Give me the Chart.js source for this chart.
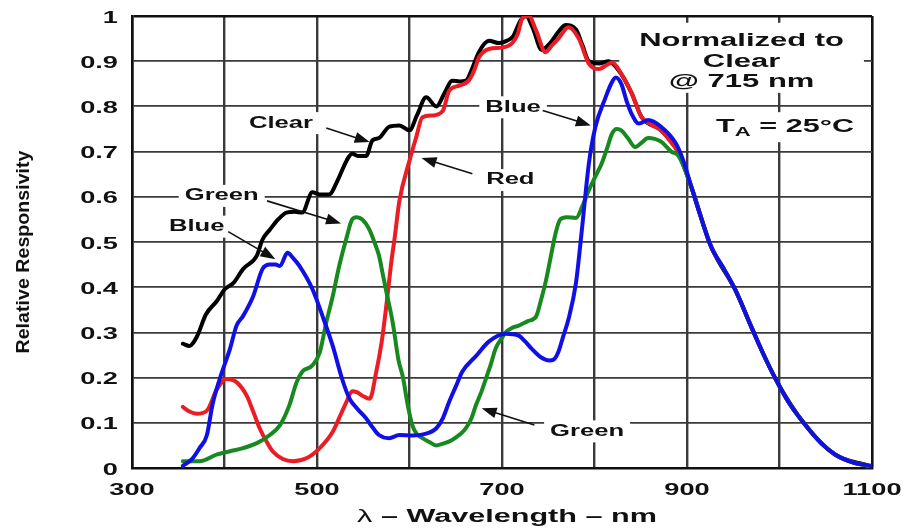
<!DOCTYPE html>
<html>
<head>
<meta charset="utf-8">
<script src="https://cdn.jsdelivr.net/npm/chart.js@4.4.0/dist/chart.umd.min.js"></script>
<style>
  html, body { margin: 0; padding: 0; background: #fff; }
</style>
</head>
<body>
<canvas id="respChart" width="907" height="530"></canvas>
<script>
// values (wavelength in nm, relative responsivity)
var clearNm  = [355, 362, 370, 380, 392, 400, 410, 420, 435, 441, 449, 458, 467, 476, 484, 495, 503, 513, 522, 532, 538, 545, 553, 560, 567, 578, 589, 600, 608, 618, 629, 638, 646, 654, 661, 668, 675, 686, 697, 705, 712, 720, 726, 733, 743, 752, 761, 769, 780, 787, 794, 805, 815, 826, 840, 851, 872, 890, 905, 926, 952, 970, 995, 1028, 1060, 1096];
var clearVal = [0.275, 0.27, 0.29, 0.34, 0.37, 0.395, 0.41, 0.44, 0.47, 0.505, 0.527, 0.55, 0.565, 0.567, 0.565, 0.61, 0.605, 0.605, 0.635, 0.68, 0.695, 0.69, 0.69, 0.725, 0.73, 0.755, 0.758, 0.747, 0.78, 0.82, 0.80, 0.83, 0.857, 0.855, 0.857, 0.885, 0.92, 0.945, 0.94, 0.945, 0.955, 0.99, 1.0, 0.975, 0.925, 0.94, 0.965, 0.98, 0.97, 0.935, 0.90, 0.895, 0.90, 0.88, 0.83, 0.776, 0.747, 0.70, 0.62, 0.49, 0.395, 0.31, 0.20, 0.095, 0.03, 0.005];

var redNm  = [355, 362, 370, 381, 392, 402, 413, 424, 431, 438, 445, 452, 463, 474, 489, 503, 517, 526, 532, 538, 543, 549, 557, 564, 570, 575, 580, 584, 589, 600, 607, 614, 625, 636, 643, 654, 664, 670, 675, 686, 700, 711, 717, 722, 729, 737, 747, 754, 761, 772, 783, 794, 805, 812, 819, 829, 840, 851, 861, 872, 881, 890, 905, 915, 926, 940, 952, 970, 983, 995, 1010, 1028, 1045, 1060, 1080, 1096];
var redVal = [0.135, 0.125, 0.12, 0.127, 0.175, 0.197, 0.19, 0.16, 0.125, 0.088, 0.06, 0.037, 0.02, 0.015, 0.022, 0.044, 0.08, 0.12, 0.147, 0.17, 0.168, 0.16, 0.153, 0.212, 0.28, 0.36, 0.45, 0.51, 0.59, 0.68, 0.73, 0.776, 0.78, 0.79, 0.835, 0.846, 0.857, 0.88, 0.908, 0.927, 0.93, 0.94, 0.96, 0.995, 1.0, 0.967, 0.92, 0.935, 0.95, 0.975, 0.95, 0.894, 0.883, 0.89, 0.897, 0.872, 0.83, 0.776, 0.76, 0.747, 0.725, 0.70, 0.62, 0.555, 0.49, 0.44, 0.395, 0.31, 0.25, 0.20, 0.145, 0.095, 0.055, 0.03, 0.012, 0.005];

var greenNm  = [355, 373, 392, 406, 420, 435, 449, 460, 470, 478, 484, 495, 503, 510, 517, 524, 532, 538, 543, 549, 556, 562, 567, 571, 576, 582, 588, 593, 598, 603, 608, 614, 621, 629, 638, 646, 655, 661, 667, 672, 678, 683, 688, 693, 699, 704, 711, 718, 728, 737, 742, 747, 752, 758, 763, 770, 780, 787, 794, 801, 808, 814, 819, 824, 829, 836, 844, 851, 858, 865, 872, 883, 891, 905, 915, 926, 940, 952, 970, 983, 995, 1010, 1028, 1045, 1060, 1080, 1096];
var greenVal = [0.015, 0.015, 0.03, 0.037, 0.044, 0.055, 0.073, 0.095, 0.138, 0.19, 0.213, 0.227, 0.256, 0.322, 0.38, 0.447, 0.51, 0.55, 0.555, 0.55, 0.53, 0.50, 0.47, 0.43, 0.38, 0.32, 0.24, 0.20, 0.14, 0.095, 0.075, 0.066, 0.058, 0.05, 0.055, 0.062, 0.075, 0.088, 0.11, 0.14, 0.17, 0.20, 0.23, 0.264, 0.285, 0.30, 0.31, 0.315, 0.325, 0.336, 0.37, 0.41, 0.46, 0.52, 0.55, 0.555, 0.553, 0.58, 0.615, 0.645, 0.675, 0.71, 0.74, 0.75, 0.747, 0.73, 0.71, 0.72, 0.73, 0.728, 0.722, 0.70, 0.69, 0.62, 0.555, 0.49, 0.44, 0.395, 0.31, 0.25, 0.20, 0.145, 0.095, 0.055, 0.03, 0.012, 0.005];

var blueNm  = [355, 365, 373, 381, 387, 395, 406, 413, 420, 431, 441, 449, 455, 460, 468, 474, 481, 495, 506, 517, 527, 535, 544, 553, 560, 567, 578, 589, 603, 616, 629, 636, 643, 650, 657, 672, 686, 704, 718, 725, 732, 742, 751, 756, 761, 766, 772, 780, 786, 794, 801, 812, 818, 823, 829, 835, 840, 848, 858, 872, 888, 896, 905, 915, 926, 940, 952, 970, 983, 995, 1010, 1028, 1045, 1060, 1080, 1100];
var blueVal = [0.005, 0.02, 0.044, 0.073, 0.14, 0.198, 0.264, 0.315, 0.336, 0.38, 0.44, 0.45, 0.45, 0.447, 0.476, 0.465, 0.447, 0.396, 0.336, 0.27, 0.198, 0.154, 0.13, 0.11, 0.09, 0.073, 0.066, 0.073, 0.072, 0.075, 0.088, 0.11, 0.147, 0.18, 0.213, 0.248, 0.28, 0.297, 0.293, 0.28, 0.264, 0.245, 0.238, 0.24, 0.257, 0.29, 0.33, 0.41, 0.52, 0.675, 0.755, 0.82, 0.85, 0.864, 0.85, 0.81, 0.784, 0.762, 0.77, 0.755, 0.718, 0.68, 0.62, 0.555, 0.49, 0.44, 0.395, 0.31, 0.25, 0.20, 0.145, 0.095, 0.055, 0.03, 0.012, 0.005];

var xTickLabels = ['300', '500', '700', '900', '1100'];
var yTickLabels = ['0', '0.1', '0.2', '0.3', '0.4', '0.5', '0.6', '0.7', '0.8', '0.9', '1'];

var FONT = '"Liberation Sans", Arial, Helvetica, sans-serif';

// callouts placed in data units
var notes = [
  { text: 'Clear', at: [461, 0.763], tail: [510, 0.752], tip: [557, 0.721] },
  { text: 'Green', at: [397, 0.602], tail: [446, 0.591], tip: [526, 0.541] },
  { text: 'Blue',  at: [370, 0.534], tail: [404, 0.523], tip: [455, 0.462] },
  { text: 'Red',   at: [709, 0.637], tail: [668, 0.651], tip: [613, 0.686] },
  { text: 'Blue',  at: [712, 0.798], tail: [744, 0.791], tip: [796, 0.758] },
  { text: 'Green', at: [792, 0.081], tail: [735, 0.095], tip: [678, 0.132] }
];
var normLines = ['Normalized to', 'Clear', '@ 715 nm'];

function pts(xs, ys) {
  return xs.map(function (x, i) { return { x: x, y: ys[i] }; });
}

function setFont(ctx, size, weight) {
  ctx.font = (weight || 'bold') + ' ' + size + 'px ' + FONT;
}

function wideText(ctx, txt, x, y, size, sx, align, weight) {
  ctx.save();
  ctx.translate(x, y);
  ctx.scale(sx, 1);
  setFont(ctx, size, weight);
  ctx.textAlign = align || 'center';
  ctx.textBaseline = 'middle';
  ctx.fillStyle = '#111';
  ctx.fillText(txt, 0, 0);
  ctx.restore();
}

function wideWidth(ctx, txt, size, sx, weight) {
  setFont(ctx, size, weight);
  return ctx.measureText(txt).width * sx;
}

function arrow(ctx, x1, y1, x2, y2) {
  var ang = Math.atan2(y2 - y1, x2 - x1), len = 15, half = 5.5;
  ctx.save();
  ctx.strokeStyle = '#111';
  ctx.fillStyle = '#111';
  ctx.lineWidth = 1.6;
  ctx.beginPath();
  ctx.moveTo(x1, y1);
  ctx.lineTo(x2 - Math.cos(ang) * len * 0.8, y2 - Math.sin(ang) * len * 0.8);
  ctx.stroke();
  ctx.translate(x2, y2);
  ctx.rotate(ang);
  ctx.beginPath();
  ctx.moveTo(0, 0);
  ctx.lineTo(-len, -half);
  ctx.lineTo(-len, half);
  ctx.closePath();
  ctx.fill();
  ctx.restore();
}

var labelPlugin = {
  id: 'labels',
  beforeDatasetsDraw: function (chart) {
    var ctx = chart.ctx, xs = chart.scales.x, ys = chart.scales.y;
    ctx.save();
    ctx.fillStyle = '#fff';
    notes.forEach(function (n) {
      var px = xs.getPixelForValue(n.at[0]), py = ys.getPixelForValue(n.at[1]);
      var w = wideWidth(ctx, n.text, 16, 1.6);
      ctx.fillRect(px - w / 2 - 6, py - 11, w + 12, 22);
    });
    // boxes behind the two notes on the right
    var cx = xs.getPixelForValue(959);
    var top = ys.getPixelForValue(0.985), bot = ys.getPixelForValue(0.83);
    var wMax = wideWidth(ctx, normLines[0], 18, 1.72);
    ctx.fillRect(cx - wMax / 2 - 20, top, wMax + 40, bot - top);
    var tx = xs.getPixelForValue(1006), ty = ys.getPixelForValue(0.754);
    ctx.fillRect(tx - 78, ty - 15, 156, 30);
    ctx.restore();
  },
  afterDatasetsDraw: function (chart) {
    var ctx = chart.ctx, xs = chart.scales.x, ys = chart.scales.y;
    var area = chart.chartArea;

    notes.forEach(function (n) {
      wideText(ctx, n.text, xs.getPixelForValue(n.at[0]), ys.getPixelForValue(n.at[1]), 16, 1.6);
      arrow(ctx, xs.getPixelForValue(n.tail[0]), ys.getPixelForValue(n.tail[1]),
                 xs.getPixelForValue(n.tip[0]), ys.getPixelForValue(n.tip[1]));
    });

    var cx = xs.getPixelForValue(959);
    [0.945, 0.899, 0.855].forEach(function (v, i) {
      wideText(ctx, normLines[i], cx, ys.getPixelForValue(v), 18, 1.72);
    });

    // T with subscript A
    var tx = xs.getPixelForValue(1006), ty = ys.getPixelForValue(0.754);
    var s = 1.7;
    var wT = wideWidth(ctx, 'T', 18, s), wA = wideWidth(ctx, 'A', 13, s);
    var rest = ' = 25\u00B0C', wR = wideWidth(ctx, rest, 18, s);
    var x0 = tx - (wT + wA + wR) / 2;
    wideText(ctx, 'T', x0, ty, 18, s, 'left');
    wideText(ctx, 'A', x0 + wT, ty + 5, 13, s, 'left');
    wideText(ctx, rest, x0 + wT + wA, ty, 18, s, 'left');

    // tick labels
    xTickLabels.forEach(function (t) {
      wideText(ctx, t, xs.getPixelForValue(parseFloat(t)), area.bottom + 22, 17, 1.6);
    });
    yTickLabels.forEach(function (t) {
      wideText(ctx, t, area.left - 14, ys.getPixelForValue(parseFloat(t)) + 2, 17, 1.6, 'right');
    });

    // axis titles
    var sx = 1.7;
    var wL = wideWidth(ctx, '\u03BB', 18, sx, 'normal');
    var tail = ' \u2013 Wavelength \u2013 nm';
    var wW = wideWidth(ctx, tail, 18, sx);
    var xStart = (area.left + area.right) / 2 + 5 - (wL + wW) / 2;
    wideText(ctx, '\u03BB', xStart, 517, 18, sx, 'left', 'normal');
    wideText(ctx, tail, xStart + wL, 517, 18, sx, 'left');

    ctx.save();
    ctx.translate(24, 252);
    ctx.rotate(-Math.PI / 2);
    setFont(ctx, 19, 'bold');
    var yt = 'Relative Responsivity';
    ctx.scale(203 / ctx.measureText(yt).width, 1);
    ctx.textAlign = 'center';
    ctx.textBaseline = 'middle';
    ctx.fillStyle = '#111';
    ctx.fillText(yt, 0, 0);
    ctx.restore();
  }
};

function lineSet(label, data, color) {
  return {
    label: label,
    data: data,
    borderColor: color,
    borderWidth: 4,
    pointRadius: 0,
    fill: false,
    cubicInterpolationMode: 'monotone',
    borderJoinStyle: 'round',
    borderCapStyle: 'round'
  };
}

var ctx = document.getElementById('respChart').getContext('2d');
var respChart = new Chart(ctx, {
  type: 'line',
  data: {
    datasets: [
      lineSet('Blue', pts(blueNm, blueVal), '#1010e6'),
      lineSet('Green', pts(greenNm, greenVal), '#17891f'),
      lineSet('Red', pts(redNm, redVal), '#ec1c24'),
      lineSet('Clear', pts(clearNm, clearVal), '#000000')
    ]
  },
  options: {
    responsive: false,
    animation: false,
    layout: { padding: { top: 16, right: 35, left: 0, bottom: 0 } },
    plugins: { legend: { display: false }, tooltip: { enabled: false } },
    scales: {
      x: {
        type: 'linear',
        min: 300,
        max: 1100,
        ticks: { display: false, stepSize: 100 },
        grid: {
          drawTicks: false,
          color: function (c) { return c.tick && c.tick.value === 1100 ? '#111' : '#3a3a3a'; },
          lineWidth: function (c) { return c.tick && c.tick.value === 1100 ? 2.6 : 2.4; }
        },
        border: { display: true, color: '#111', width: 2.6 },
        afterFit: function (scale) { scale.height = 62; }
      },
      y: {
        min: 0,
        max: 1,
        ticks: { display: false, stepSize: 0.1 },
        grid: {
          drawTicks: false,
          color: function (c) { return c.tick && c.tick.value === 1 ? '#111' : '#3a3a3a'; },
          lineWidth: function (c) { return c.tick && c.tick.value === 1 ? 2.4 : 1.8; }
        },
        border: { display: true, color: '#111', width: 2.6 },
        afterFit: function (scale) { scale.width = 132; }
      }
    }
  },
  plugins: [labelPlugin]
});
</script>
</body>
</html>
